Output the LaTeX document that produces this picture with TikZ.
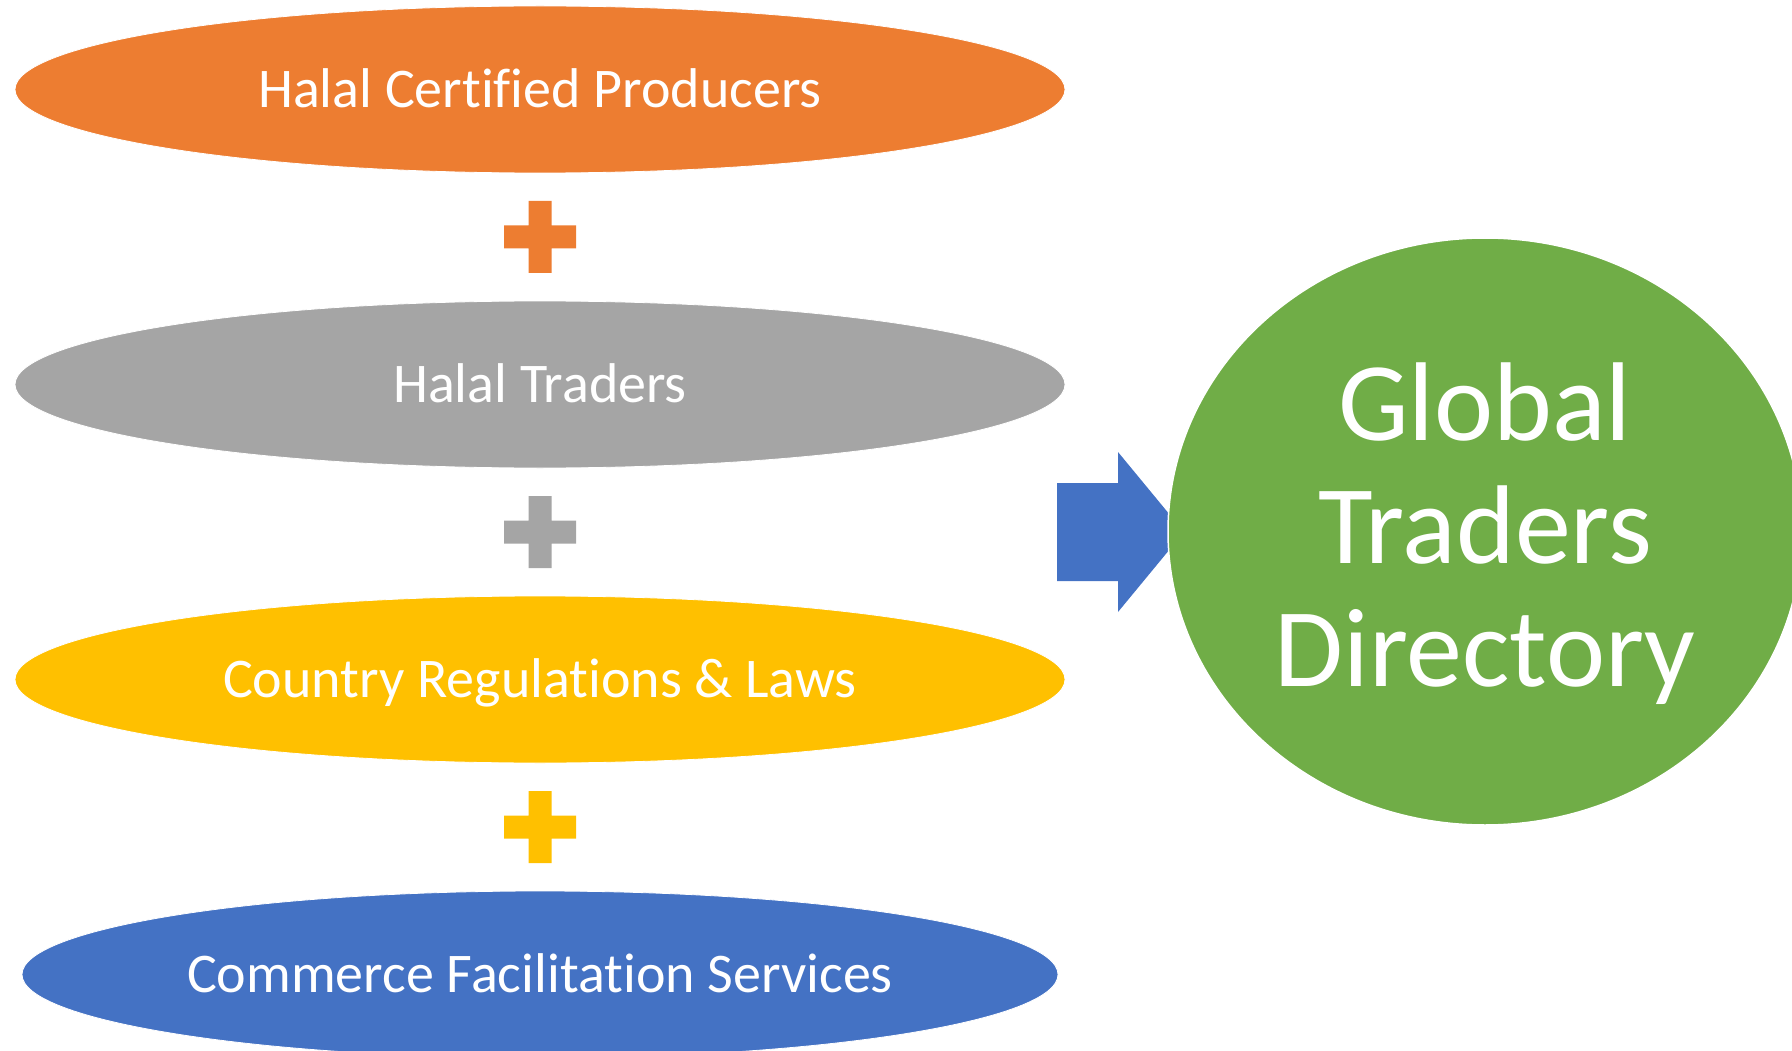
\documentclass[tikz,border=0pt]{standalone}
\usepackage{fontspec}
\setmainfont[Ligatures=NoCommon]{Carlito}
\usepackage{tikz}
\usetikzlibrary{shapes.geometric}

\definecolor{offorange}{HTML}{ED7D31}
\definecolor{offgray}{HTML}{A5A5A5}
\definecolor{offyellow}{HTML}{FFC000}
\definecolor{offblue}{HTML}{4472C4}
\definecolor{offgreen}{HTML}{70AD47}

\begin{document}
\begin{tikzpicture}[x=1pt, y=-1pt,
    item/.style={ellipse, draw=white, line width=0.8pt, inner sep=0pt,
        minimum width=1050pt, minimum height=167pt, text=white,
        font=\fontsize{56}{66}\selectfont, text height=36pt, text depth=0pt},
    target/.style={ellipse, draw=white, line width=1.5pt, fill=offgreen, inner sep=0pt,
        minimum width=634pt, minimum height=587pt}]
    \useasboundingbox (0,0) rectangle (1792,1051);
    % the four inputs
    \node[item, fill=offorange] (prod) at (540, 89.5) {Halal Certified Producers};
    \node[item, fill=offgray] (trad) at (540, 384.5) {Halal Traders};
    \node[item, fill=offyellow] (regs) at (540, 679.5) {Country Regulations \& Laws};
    \node[item, fill=offblue, minimum width=1036pt] (serv) at (540, 974.5) {Commerce Facilitation Services};
    % plus signs between them
    \coordinate (plusA) at (540, 237);
    \coordinate (plusB) at (540, 532);
    \coordinate (plusC) at (540, 827);
    \fill[offorange] ([shift={(-36,-11.5)}]plusA) rectangle ([shift={(36,11.5)}]plusA)
        ([shift={(-11.5,-36)}]plusA) rectangle ([shift={(11.5,36)}]plusA);
    \fill[offgray] ([shift={(-36,-11.5)}]plusB) rectangle ([shift={(36,11.5)}]plusB)
        ([shift={(-11.5,-36)}]plusB) rectangle ([shift={(11.5,36)}]plusB);
    \fill[offyellow] ([shift={(-36,-11.5)}]plusC) rectangle ([shift={(36,11.5)}]plusC)
        ([shift={(-11.5,-36)}]plusC) rectangle ([shift={(11.5,36)}]plusC);
    % block arrow into the directory
    \coordinate (tail) at (1057, 532);
    \coordinate (tip) at (1184, 532);
    \fill[offblue] ([yshift=-49]tail) -- ([xshift=-66, yshift=-49]tip) -- ([xshift=-66, yshift=-80]tip)
        -- (tip) -- ([xshift=-66, yshift=80]tip) -- ([xshift=-66, yshift=49]tip) -- ([yshift=49]tail) -- cycle;
    \node[target] (gtd) at (1485, 531.5) {};
    \node[text=white, align=center, font=\fontsize{112}{123}\selectfont] (gtdtext) at ([yshift=-2.5]gtd.center) {Global\\Traders\\Directory};
\end{tikzpicture}
\end{document}
